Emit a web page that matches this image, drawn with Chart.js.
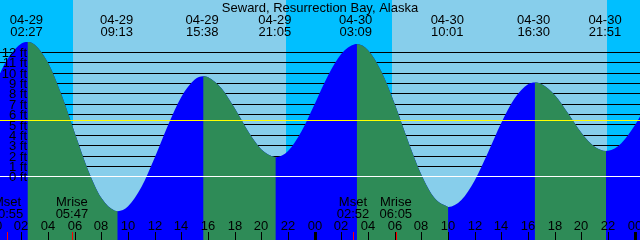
<!DOCTYPE html>
<html><head><meta charset="utf-8">
<script src="https://cdn.jsdelivr.net/npm/chart.js@4"></script>
<style>html,body{margin:0;padding:0;background:#87CEEB;}canvas{display:block;}</style>
</head><body>
<canvas id="c" width="640" height="240"></canvas>
<script>
// ---- data (hours since 04-29 00:00, heights in feet) ----
const title = 'Seward, Resurrection Bay, Alaska';
const tideTimes = [0,1,2,2.45,3,4,5,6,7,8,9,9.22,10,11,12,13,14,15,15.63,16,17,18,19,20,21,21.08,22,23,24,25,26,27,27.15,28,29,30,31,32,33,34,34.02,35,36,37,38,39,40,40.5,41,42,43,44,45,45.85,46,47,48,49];
const tideFeet  = [8.93,11.43,12.84,13.0,12.74,10.98,7.93,4.22,0.65,-2.04,-3.26,-3.3,-2.83,-0.98,1.86,5.0,7.73,9.39,9.7,9.61,8.55,6.6,4.39,2.64,1.91,1.9,2.5,4.38,7.02,9.76,11.86,12.78,12.8,12.21,10.15,7.02,3.46,0.2,-2.06,-2.89,-2.9,-2.23,-0.34,2.35,5.21,7.58,8.92,9.1,8.96,7.9,6.14,4.26,2.9,2.5,2.51,3.25,4.94,7.21];
const eventTimes = [2.45,9.217,15.633,21.083,27.15,34.017,40.5,45.85];
const eventDates = ['04-29','04-29','04-29','04-29','04-30','04-30','04-30','04-30'];
const eventClock = ['02:27','09:13','15:38','21:05','03:09','10:01','16:30','21:51'];
const moonTimes = [0.917,5.783,26.867,30.083];
const moonNames = ['Mset','Mrise','Mset','Mrise'];
const moonClock = ['00:55','05:47','02:52','06:05'];
const nightStarts = [-2,21.85,45.92];
const nightEnds   = [5.88,29.83,50];
const hourTicks  = [0,2,4,6,8,10,12,14,16,18,20,22,24,26,28,30,32,34,36,38,40,42,44,46,48];
const hourLabels = ['00','02','04','06','08','10','12','14','16','18','20','22','00','02','04','06','08','10','12','14','16','18','20','22','00'];
const footLevels = [0,1,2,3,4,5,6,7,8,9,10,11,12];
const footLabels = ['0 ft','1 ft','2 ft','3 ft','4 ft','5 ft','6 ft','7 ft','8 ft','9 ft','10 ft','11 ft','12 ft'];
const meanLevel = 5.45;

const DAY = '#87CEEB', NIGHT = '#00BFFF', RISE = '#0000FF', FALL = '#2E8B57', NONE = 'rgba(0,0,0,0)';
const FONT = '13px "Liberation Sans", Arial, sans-serif';

const tidePlugin = {
  id: 'tide',
  beforeDatasetsDraw(chart) {
    const {ctx, chartArea: a, scales: {x, y}} = chart;
    ctx.save();
    ctx.fillStyle = DAY;
    ctx.fillRect(a.left, a.top, a.width, a.height);
    ctx.fillStyle = NIGHT;
    nightStarts.forEach((s, i) => {
      const x0 = Math.round(x.getPixelForValue(s));
      const x1 = Math.round(x.getPixelForValue(nightEnds[i]));
      ctx.fillRect(x0, a.top, x1 - x0, a.height);
    });
    ctx.strokeStyle = '#000';
    ctx.lineWidth = 1;
    footLevels.forEach(f => {
      if (f === 0) return;
      const py = Math.floor(y.getPixelForValue(f)) + 0.5;
      ctx.beginPath(); ctx.moveTo(a.left, py); ctx.lineTo(a.right, py); ctx.stroke();
    });
    ctx.restore();
  },
  afterDatasetsDraw(chart) {
    const {ctx, chartArea: a, scales: {x, y}} = chart;
    ctx.save();
    const hline = (v, col) => {
      const py = Math.floor(y.getPixelForValue(v)) + 0.5;
      ctx.strokeStyle = col; ctx.lineWidth = 1;
      ctx.beginPath(); ctx.moveTo(a.left, py); ctx.lineTo(a.right, py); ctx.stroke();
    };
    hline(0, '#FFFFFF');
    hline(meanLevel, '#FFFF00');

    ctx.font = FONT;
    ctx.fillStyle = '#000';
    ctx.textBaseline = 'alphabetic';
    ctx.textAlign = 'right';
    footLevels.forEach((f, i) => {
      ctx.fillText(footLabels[i], 27, y.getPixelForValue(f) + 4.6);
    });
    ctx.textAlign = 'center';
    ctx.fillText(title, 320, 12);
    eventTimes.forEach((t, i) => {
      const px = x.getPixelForValue(t) - 1;
      ctx.fillText(eventDates[i], px, 24);
      ctx.fillText(eventClock[i], px, 36);
    });
    moonTimes.forEach((t, i) => {
      const px = x.getPixelForValue(t);
      ctx.fillText(moonNames[i], px, 206);
      ctx.fillText(moonClock[i], px, 218);
    });
    hourTicks.forEach((t, i) => {
      const px = Math.round(x.getPixelForValue(t));
      ctx.fillStyle = '#000';
      ctx.fillText(hourLabels[i], px, 229.5);
      const w = hourLabels[i] === '00' ? 3 : 1;
      ctx.fillRect(px - Math.floor(w / 2), 232, w, 8);
    });
    ctx.fillStyle = '#FF0000';
    moonTimes.forEach(t => {
      const px = Math.round(x.getPixelForValue(t));
      ctx.fillRect(px, 232, 1, 8);
    });
    ctx.restore();
  }
};

const tidePoints = tideTimes.map((t, i) => ({x: t, y: tideFeet[i]}));
const common = {
  data: tidePoints,
  fill: 'start',
  borderColor: NONE,
  borderWidth: 0,
  pointRadius: 0,
  cubicInterpolationMode: 'monotone'
};

new Chart(document.getElementById('c'), {
  type: 'line',
  data: {
    datasets: [
      Object.assign({}, common, {
        label: 'falling',
        backgroundColor: FALL,
        segment: { backgroundColor: c => (c.p1.parsed.y > c.p0.parsed.y ? NONE : FALL) }
      }),
      Object.assign({}, common, { label: 'rising', backgroundColor: RISE })
    ]
  },
  options: {
    responsive: false,
    animation: false,
    devicePixelRatio: 1,
    layout: {padding: 0},
    plugins: {legend: {display: false}, tooltip: {enabled: false}, title: {display: false}},
    scales: {
      x: {type: 'linear', min: 0.39, max: 48.4, display: false},
      y: {type: 'linear', min: -6.08, max: 17.04, display: false}
    }
  },
  plugins: [tidePlugin]
});
</script></body></html>
